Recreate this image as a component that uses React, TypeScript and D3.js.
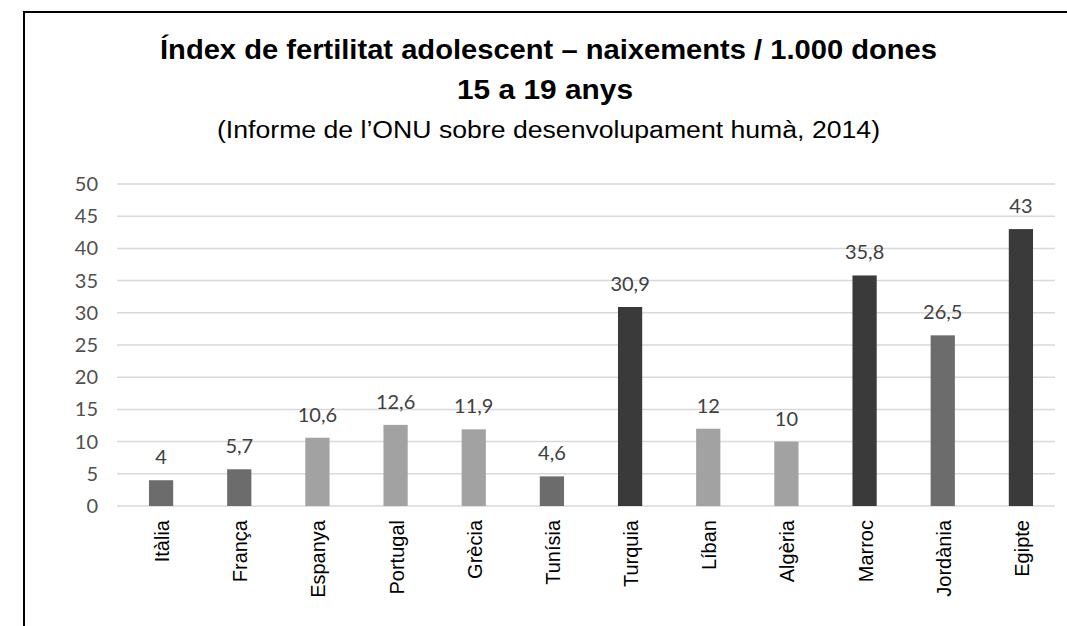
import React from "react";
import * as d3 from "d3";

const categories = ["Itàlia", "França", "Espanya", "Portugal", "Grècia", "Tunísia", "Turquia", "Líban", "Algèria", "Marroc", "Jordània", "Egipte"];
const values = [4, 5.7, 10.6, 12.6, 11.9, 4.6, 30.9, 12, 10, 35.8, 26.5, 43];
const valueLabels = ["4", "5,7", "10,6", "12,6", "11,9", "4,6", "30,9", "12", "10", "35,8", "26,5", "43"];
const groups = ["mid", "mid", "light", "light", "light", "mid", "dark", "light", "light", "dark", "mid", "dark"];
const yTicks = [0, 5, 10, 15, 20, 25, 30, 35, 40, 45, 50];

const colorMap: Record<string, string> = { dark: "#3a3a3a", mid: "#6c6c6c", light: "#a2a2a2" };

const W = 1067;
const H = 626;

export default function App() {
  const x = d3.scaleBand<string>().domain(categories).range([122, 1060]).paddingInner(0.69).paddingOuter(0.345);
  const y = d3.scaleLinear().domain([0, 50]).range([506, 184]);
  const numFont = "Lato, 'Open Sans', sans-serif";
  const arial = "'Liberation Sans', Arial, sans-serif";
  return (
    <svg width={W} height={H} style={{ position: "absolute", left: 0, top: 0, background: "#fff" }}>
      <rect x={0} y={0} width={W} height={H} fill="#fff" />
      {/* border */}
      <line x1={24} y1={12} x2={W} y2={12} stroke="#000" strokeWidth={2} />
      <line x1={24} y1={11} x2={24} y2={H} stroke="#000" strokeWidth={2} />
      {/* titles */}
      <text x={548.5} y={59} textAnchor="middle" fontFamily={arial} fontWeight="bold" fontSize={27} fill="#000" textLength={777} lengthAdjust="spacingAndGlyphs">
        Índex de fertilitat adolescent – naixements / 1.000 dones
      </text>
      <text x={545} y={99} textAnchor="middle" fontFamily={arial} fontWeight="bold" fontSize={27} fill="#000" textLength={176} lengthAdjust="spacingAndGlyphs">
        15 a 19 anys
      </text>
      <text x={548.5} y={138} textAnchor="middle" fontFamily={arial} fontSize={23} fill="#000" textLength={663} lengthAdjust="spacingAndGlyphs">
        (Informe de l’ONU sobre desenvolupament humà, 2014)
      </text>
      {/* gridlines */}
      {yTicks.map((t) => (
        <g key={t}>
          <line x1={117} x2={1055} y1={y(t)} y2={y(t)} stroke="#d9d9d9" strokeWidth={1.5} />
          <text x={98} y={y(t)} dy="0.35em" textAnchor="end" fontFamily={numFont} fontSize={20} fill="#505050">
            {t}
          </text>
        </g>
      ))}
      {/* bars */}
      {categories.map((c, i) => (
        <g key={c}>
          <rect x={x(c)} y={y(values[i])} width={x.bandwidth()} height={y(0) - y(values[i])} fill={colorMap[groups[i]]} />
          <text x={(x(c) as number) + x.bandwidth() / 2} y={y(values[i]) - 16} textAnchor="middle" fontFamily={numFont} fontSize={20} fill="#404040">
            {valueLabels[i]}
          </text>
          <text
            transform={`translate(${(x(c) as number) + x.bandwidth() / 2 + 1},520) rotate(-90)`}
            textAnchor="end"
            dy="0.35em"
            fontFamily={arial}
            fontSize={20}
            fill="#000"
          >
            {c}
          </text>
        </g>
      ))}
    </svg>
  );
}
